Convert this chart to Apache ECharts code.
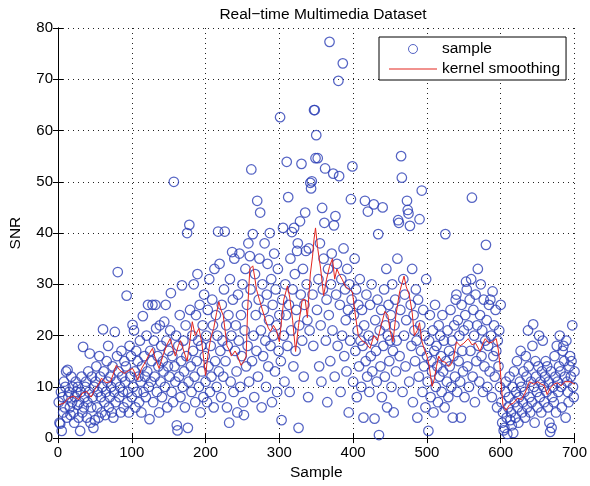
<!DOCTYPE html>
<html>
<head>
<meta charset="utf-8">
<script src="https://cdn.jsdelivr.net/npm/echarts@6/dist/echarts.min.js"></script>
<style>
html,body{margin:0;padding:0;background:#fff;}
#chart{width:590px;height:486px;}
</style>
</head>
<body>
<div id="chart"></div>
<script>
// Sample SNR values, one per sample index 1..700
var sampleY = [
7,3,2.8,9,1.4,8,5,11,6,10,
13,4,13.3,8,9,6,4.5,12,7,10,
5,3,8,11,9,6.5,10,4,7,1.4,
9,12,5,17.8,6,8,10,11,4,7,
13,9,16.5,3,6,12,8,2,10,3.5,
11,14,6,9,4,16,12,8,5,10,
21.2,13,7,4.5,9,15,11,18,6,8,
12,10,5,14,4,9,20.7,7,11,16,
32.4,13,8,10,5,17,12,9,6,15,
11,14,27.8,7,9,5,18,12,16,8,
22.1,10,21,13,6,17,9,15,12,7,
19,11,5,14,23.8,9,16,12,8,20,
13,26,10,3.7,17,11,15,26,7,19,
12,26,21.4,9,16,14,5,22,11,18,
8,15,13,22.7,10,26,19,6,14,17,
12,21,28.3,9,16,7,50,14,11,20,
2.5,1.5,18,12,24,8,15,29.8,10,19,
13,6,22,16,40,2,11,41.6,25,14,
9,20,17,30,12,7,24,15,32,19,
10,26,5,18,13,22,8,28,16,11,
20,7,25,14,31,9,18,12,27,22,
6,33,15,24,10,20,40.3,13,34,17,
8,26,19,12,29,40.3,15,22,6,18,
24,3,31,11,20,36.3,27,9,35,17,
22,13,5,28,19,36,10,24,16,30,
7,4.5,21,33,14,26,18,38,11,35.5,
29,52.4,15,39.8,20,8,32,24,17,46.3,
12,27,35,44,21,6,30,16,25,38,
19,10,28,34,14,23,40,18,31,7,
26,20,36,13,29,22,9,33,17,24,
62.6,15,3.5,27,41,20,11,30,24,53.9,
18,47,26,9,35,21,40.2,29,14,41,
32,17,25,36.5,38,2,22,42.3,28,53.5,
19,33,12,26,44,36.5,30,23,8,37,
21,49.8,48.7,50.1,28,18,64,64,54.6,59.1,
25,54.6,31,14,38,22,11,44.9,29,35,
42,52.6,19,27,7,33,24,77.3,15,30,
36,21,51.6,41.5,12,43.3,28,34,18,69.7,
51.1,26,9,31,20,73.1,37,16,29,23,
13,33,25,5,30,19,46.6,27,53,11,
24,35,17,29,8,21,26,14,31,19,
10,25,18,4,22,46.3,15,28,12,44.2,
20,9,26,16,30,13,19,45.6,3.8,23,
17,11,27,39.8,0.6,21,14,25,8,45,
18,29,12,22,33,6,20,26,15,19,
24,10,30,17,5,22,27,13,19,35,
42.5,42,16,25,55,50.8,9,31,20,28,
14,23,46.3,44.5,43.8,11,41.4,26,18,33,
7,24,21,15,29,19,4,27,12,42.7,
22,17,48.3,9,25,14,20,6,31,16,
11,1.4,19,24,8,15,13,21,5,17,
26,10,18,14,7,22,12,20,16,9,
24,13,19,6,39.8,15,11,21,8,17,
14,25,10,19,4,16,22,12,27,28,
9,23,15,20,11,4,26,17,13,21,
8,24,30.5,29,14,22,10,27,17,31,
46.9,12,25,20,7,28,15,22,33,18,
11,24,30,16,21,9,27,14,19,37.7,
23,10,18,26,13,27,20,8,28.6,16,
22,12,25,17,6,19,14,21,10,26,
7,3,5,1.5,2,9,11,4,0.8,6,
8,12,3.5,5,2.5,10,1,13,7,4,
9,15,6,3,8,11,17,10,5,7,
13,9,4,16,12,6,21,14,8,5,
11,7,18,22.2,10,3,15,12,9,6,
14,20,8,11,5,13,19,10,7,12,
15,9,14,6,11,3,1.2,13,2,8,
10,7,16,12,5,18,11,9,14,20,
13,10,6,17,18,15,12,4,19,11,
9,7,14,16,12,15,22,10,8,13
];
var sampleX = sampleY.map(function(v,i){return i+1;});

// Kernel smoothing curve
var smoothX = [1,8,14,21,28,33,39,45,50,55,59,65,71,75,79,84,90,95,101,105,108,113,119,124,128,132,137,142,147,152,156,159,163,166,170,175,178,182,186,191,195,200,203,207,211,215,218,221,224,229,232,235,240,243,248,252,255,257,260,264,267,269,273,277,282,285,288,292,296,300,303,306,311,314,318,322,326,331,335,338,342,345,347,349,352,356,360,364,368,372,375,378,381,385,390,395,399,403,407,412,417,423,428,433,438,443,447,450,454,458,463,469,472,476,480,483,487,490,493,496,500,503,505,507,510,513,516,520,525,529,532,536,540,545,550,556,561,566,572,576,579,584,589,594,597,599,601,603,607,612,617,623,628,633,639,645,650,655,659,663,667,672,677,682,687,694,700];
var smoothY = [6.5,6.8,7.8,8.2,7.5,8.8,9.1,8.0,9.5,10.5,11.7,10.8,11.0,12.5,14.2,13.2,12.6,13.1,13.6,12.5,11.3,13.5,15.0,16.5,17.5,15.5,13.6,16.0,18.0,19.4,17.5,16.0,18.0,19.0,17.2,15.0,18.0,22.7,20.0,21.4,18.5,12.2,16.0,19.5,21.4,24.5,26.6,25.0,23.9,18.0,17.2,16.0,17.0,16.2,14.2,15.0,16.0,25.0,33.0,33.6,31.0,29.0,27.0,25.0,22.7,21.5,20.8,22.0,21.0,18.8,23.0,27.0,29.7,27.5,23.0,16.9,22.0,27.0,27.0,23.5,32,35.5,38.8,41,37,33,27.8,31,33.5,35,31,33,32,31,29.5,29,28.5,24,20,19,18.5,17.5,20,19,22,24.7,24,21,18.8,24,28.5,31.6,29.5,28,24.5,20,21,22.5,19,17.5,16,14.2,12,10.1,11.5,14,16,15,14.8,14.0,14.2,15.5,18.8,18,18.5,19.4,18.2,18.5,16.9,18.5,19.4,18.5,18.8,19.4,17,14.2,10,6.4,5.4,6.5,6.8,7.8,7.5,8.8,11.0,10.5,11,10.5,10.3,8.5,9.7,10.5,10.8,10.2,11.0,11.0,10.5];

var xTicks = [0,100,200,300,400,500,600,700];
var yTicks = [0,10,20,30,40,50,60,70,80];

var FONT = '"Liberation Sans", Arial, Helvetica, sans-serif';
var BLUE = '#2a3db5';
var RED = '#e3261f';
var chart = echarts.init(document.getElementById('chart'), null, {renderer:'canvas'});

function axisCommon(extra){
  var base = {
    type:'value',
    axisLine:{show:true, lineStyle:{color:'#000', width:1}},
    axisTick:{show:true, inside:true, length:5, lineStyle:{color:'#000'}},
    splitLine:{show:false},
    axisLabel:{show:false}
  };
  for (var k in extra) base[k] = extra[k];
  return base;
}

var option = {
  animation:false,
  backgroundColor:'#fff',
  title:{
    text:'Real\u2212time Multimedia Dataset',
    left:318, top:2, textAlign:'center',
    textStyle:{fontFamily:FONT, fontSize:15.5, fontWeight:'normal', color:'#000'}
  },
  grid:{left:54, right:13, top:28, bottom:46, containLabel:false},
  legend:{
    orient:'vertical',
    left:379, top:37,
    itemWidth:48, itemHeight:9, itemGap:4,
    padding:[4,6,3,10],
    borderColor:'#000', borderWidth:1, backgroundColor:'#fff',
    textStyle:{fontFamily:FONT, fontSize:15.5, color:'#000'},
    data:[
      {name:'sample', itemStyle:{borderWidth:1}},
      {name:'kernel smoothing', icon:'path://M0,0H48V1.2H0Z', itemStyle:{color:RED, borderWidth:0}}
    ]
  },
  xAxis:[
    axisCommon({
      position:'bottom', min:xTicks[0], max:xTicks[xTicks.length-1], interval:100,
      axisLabel:{show:true, color:'#000', fontFamily:FONT, fontSize:15, margin:7},
      splitLine:{show:true, lineStyle:{color:'#222', type:[1,4], width:1}},
      name:'Sample', nameLocation:'middle', nameGap:19,
      nameTextStyle:{fontFamily:FONT, fontSize:15.5, color:'#000'}
    }),
    axisCommon({position:'top', min:xTicks[0], max:xTicks[xTicks.length-1], interval:100})
  ],
  yAxis:[
    axisCommon({
      position:'left', min:yTicks[0], max:yTicks[yTicks.length-1], interval:10,
      axisLabel:{show:true, color:'#000', fontFamily:FONT, fontSize:15, margin:5},
      splitLine:{show:true, lineStyle:{color:'#222', type:[1,4], width:1}},
      name:'SNR', nameLocation:'middle', nameGap:34, nameRotate:90,
      nameTextStyle:{fontFamily:FONT, fontSize:15.5, color:'#000'}
    }),
    axisCommon({position:'right', min:yTicks[0], max:yTicks[yTicks.length-1], interval:10})
  ],
  series:[
    {
      name:'sample', type:'scatter', xAxisIndex:0, yAxisIndex:0,
      symbol:'circle', symbolSize:9.5,
      itemStyle:{color:'rgba(255,255,255,0)', borderColor:BLUE, borderWidth:1.25},
      data: sampleX.map(function(x,i){return [x, sampleY[i]];}),
      z:2
    },
    {
      name:'kernel smoothing', type:'line', xAxisIndex:0, yAxisIndex:0,
      symbol:'none', showSymbol:false,
      lineStyle:{color:RED, width:1},
      itemStyle:{color:RED},
      data: smoothX.map(function(x,i){return [x, smoothY[i]];}),
      z:3
    }
  ]
};
chart.setOption(option);
</script>
</body>
</html>
